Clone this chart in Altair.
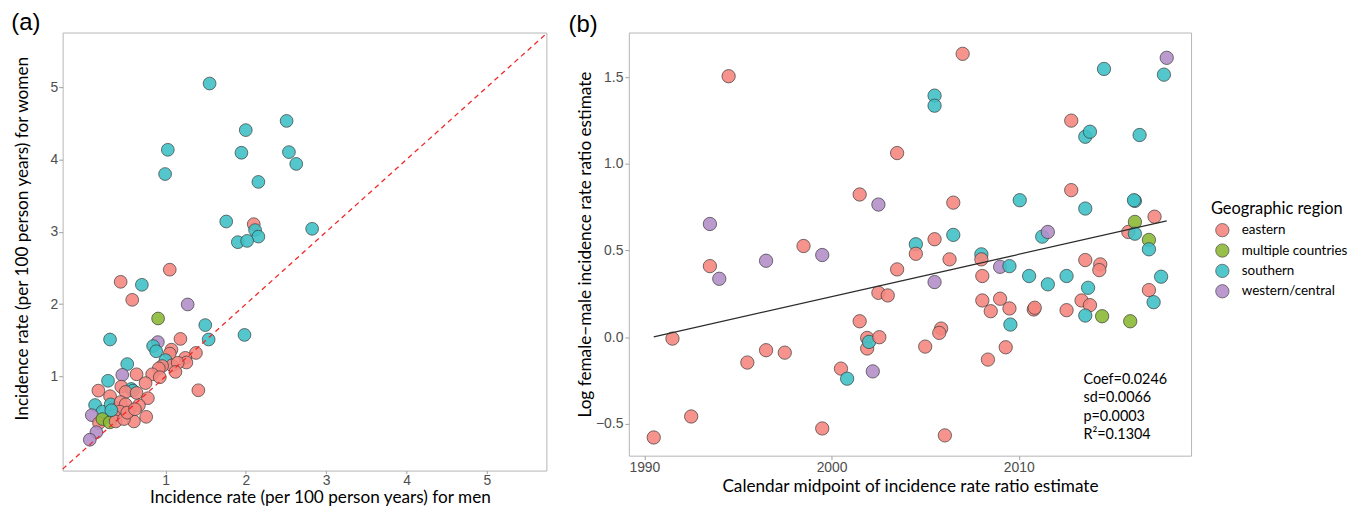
import altair as alt
import pandas as pd

REGIONS = ["eastern", "multiple countries", "southern", "western/central"]
CODE = {"E": "eastern", "M": "multiple countries", "S": "southern", "W": "western/central"}
PALETTE = ["#F4877F", "#8CB936", "#40C1C6", "#B48FC9"]

# ---------------- panel (a): incidence women vs men ----------------
a_men = [1.549, 2.507, 1.999, 1.029, 1.945, 2.536, 2.627, 0.995, 2.156, 1.756,
         2.098, 2.115, 2.156, 1.900, 2.016, 2.825,
         1.053, 0.442, 0.706, 0.586, 1.276, 0.908, 1.495, 0.310, 0.905, 1.537,
         0.846, 0.884, 1.186, 1.983, 1.074, 1.053, 1.379, 1.247, 1.260, 1.000,
         1.082, 1.152, 0.958, 0.917, 1.124, 0.834, 0.929, 0.524, 0.462, 0.640,
         0.752, 1.409, 0.285, 0.165, 0.450, 0.574, 0.595, 0.504, 0.640, 0.310,
         0.781, 0.760, 0.607, 0.669, 0.545, 0.124, 0.215, 0.318, 0.400, 0.083,
         0.442, 0.504, 0.430, 0.359, 0.173, 0.215, 0.306, 0.380, 0.483, 0.140,
         0.058, 0.524, 0.620, 0.326]
a_women = [5.050, 4.533, 4.406, 4.134, 4.093, 4.102, 3.939, 3.799, 3.690, 3.143,
           3.106, 3.024, 2.934, 2.857, 2.875, 3.042,
           2.477, 2.309, 2.268, 2.060, 1.996, 1.802, 1.711, 1.512, 1.476, 1.512,
           1.421, 1.349, 1.520, 1.575, 1.371, 1.317, 1.326, 1.258, 1.194, 1.227,
           1.154, 1.190, 1.145, 1.113, 1.064, 1.031, 0.990, 1.172, 1.023, 1.031,
           0.909, 0.810, 0.941, 0.805, 0.860, 0.828, 0.805, 0.787, 0.773, 0.728,
           0.701, 0.443, 0.379, 0.602, 0.524, 0.606, 0.515, 0.615, 0.561, 0.466,
           0.647, 0.615, 0.515, 0.457, 0.357, 0.412, 0.366, 0.379, 0.412, 0.230,
           0.126, 0.501, 0.548, 0.534]
a_region = ["S", "S", "S", "S", "S", "S", "S", "S", "S", "S",
            "E", "S", "S", "S", "S", "S",
            "E", "E", "S", "E", "W", "M", "S", "S", "W", "S",
            "S", "S", "E", "S", "E", "E", "E", "E", "E", "S",
            "E", "E", "E", "E", "E", "E", "E", "S", "W", "E",
            "E", "E", "S", "E", "E", "S", "S", "E", "E", "E",
            "E", "E", "E", "E", "E", "S", "S", "S", "W", "W",
            "E", "E", "E", "E", "E", "M", "M", "E", "E", "W",
            "W", "E", "E", "S"]
a_diag = [-0.28, 5.74]
a_ticks = [1, 2, 3, 4, 5]

# ---------------- panel (b): log IRR over calendar time ----------------
b_year = [1990.5, 1991.5, 1992.5, 1993.5, 1993.5, 1994.0, 1994.5, 1995.5, 1996.5, 1996.5,
          1997.5, 1998.5, 1999.5, 1999.5, 2000.5, 2000.83, 2001.5, 2001.5, 2001.9, 2001.9,
          2002.0, 2002.55, 2002.2, 2002.5, 2002.5, 2003.0, 2003.5, 2003.5, 2004.5, 2004.5,
          2005.0, 2005.5, 2005.5, 2005.5, 2005.5, 2005.85, 2005.75, 2006.05, 2006.3, 2006.5,
          2006.5, 2007.0, 2008.0, 2008.0, 2008.05, 2008.05, 2008.5, 2008.35, 2009.0, 2009.5,
          2009.0, 2009.5, 2009.55, 2009.3, 2010.05, 2010.55, 2010.8, 2010.85, 2011.25, 2011.55,
          2011.55, 2012.55, 2012.55, 2012.8, 2012.8, 2013.55, 2013.8, 2013.55, 2013.55, 2013.7,
          2013.35, 2013.8, 2013.55, 2014.35, 2014.3, 2014.45, 2014.55, 2015.95, 2015.85, 2016.2,
          2016.15, 2016.2, 2016.2, 2016.45, 2016.95, 2016.95, 2016.95, 2017.25, 2017.2, 2017.6,
          2017.75, 2017.9]
b_logirr = [-0.578, -0.008, -0.457, 0.410, 0.653, 0.337, 1.505, -0.146, 0.441, -0.075,
            -0.089, 0.526, 0.474, -0.526, -0.181, -0.239, 0.823, 0.092, -0.004, -0.065,
            -0.027, 0.000, -0.197, 0.765, 0.256, 0.241, 0.391, 1.062, 0.536, 0.481,
            -0.054, 0.565, 1.393, 1.335, 0.318, 0.050, 0.025, -0.566, 0.449, 0.776,
            0.590, 1.634, 0.478, 0.449, 0.353, 0.212, 0.150, -0.129, 0.406, 0.410,
            0.222, 0.166, 0.073, -0.058, 0.790, 0.353, 0.160, 0.170, 0.580, 0.607,
            0.305, 0.353, 0.156, 1.249, 0.848, 1.156, 1.185, 0.742, 0.445, 0.285,
            0.212, 0.185, 0.125, 0.420, 0.387, 0.121, 1.547, 0.092, 0.607, 0.786,
            0.790, 0.665, 0.597, 1.166, 0.561, 0.507, 0.272, 0.695, 0.202, 0.349,
            1.514, 1.611]
b_region = ["E", "E", "E", "E", "W", "W", "E", "E", "W", "E",
            "E", "E", "W", "E", "E", "S", "E", "E", "E", "E",
            "S", "E", "W", "W", "E", "E", "E", "E", "S", "E",
            "E", "E", "S", "S", "W", "E", "E", "E", "E", "E",
            "S", "E", "S", "E", "E", "E", "E", "E", "W", "S",
            "E", "E", "S", "E", "S", "S", "E", "E", "S", "W",
            "S", "S", "E", "E", "E", "S", "S", "S", "E", "S",
            "E", "E", "S", "E", "E", "M", "S", "M", "E", "S",
            "S", "M", "S", "S", "M", "S", "E", "E", "S", "S",
            "S", "W"]
b_xticks = [1990, 2000, 2010]
b_yticks = [-0.5, 0.0, 0.5, 1.0, 1.5]
stats_text = ["Coef=0.0246", "sd=0.0066", "p=0.0003", "R²=0.1304"]

TITLE_FONT = "Lato"
LABEL_FONT = "Liberation Sans"


def axis(title, values, orient, fmt=None, title_pad=2, tick=4, label_pad=1, **extra):
    kw = dict(
        title=title, values=values, grid=False, domain=False,
        ticks=True, tickSize=tick, tickColor="#a0a0a0", tickWidth=1,
        labelFont=LABEL_FONT, labelFontSize=14, labelColor="#4d4d4d",
        labelPadding=label_pad, titleFont=TITLE_FONT, titleFontSize=17.3,
        titleFontWeight="normal", titleColor="#000000", titlePadding=title_pad,
        orient=orient,
    )
    if fmt:
        kw["format"] = fmt
    kw.update(extra)
    return alt.Axis(**kw)


color_scale = alt.Scale(domain=REGIONS, range=PALETTE)

# ---- panel (a)
dfa = pd.DataFrame({"men": a_men, "women": a_women,
                    "region": [CODE[c] for c in a_region]})
dfd = pd.DataFrame({"v": a_diag})
xa = alt.Scale(domain=[-0.28, 5.74], nice=False, zero=False)
ya = alt.Scale(domain=[-0.30, 5.755], nice=False, zero=False)
ax_xa = axis("Incidence rate (per 100 person years) for men", a_ticks, "bottom",
             title_pad=1, tick=3, label_pad=0, titleX=259)
ax_ya = axis("Incidence rate (per 100 person years) for women", a_ticks, "left",
             title_pad=19, titleY=207)

pts_a = alt.Chart(dfa).mark_circle(
    size=165, stroke="#3a3a3a", strokeWidth=0.7, fillOpacity=0.9, opacity=1
).encode(
    x=alt.X("men:Q", scale=xa, axis=ax_xa),
    y=alt.Y("women:Q", scale=ya, axis=ax_ya),
    color=alt.Color("region:N", scale=color_scale, legend=None),
)
diag_a = alt.Chart(dfd).mark_line(
    color="#F02828", strokeDash=[5, 4], strokeWidth=1.3
).encode(
    x=alt.X("v:Q", scale=xa, axis=ax_xa),
    y=alt.Y("v:Q", scale=ya, axis=ax_ya),
)
panel_a = alt.layer(pts_a, diag_a).properties(
    width=487, height=441,
    title=alt.TitleParams("(a)", anchor="start", frame="bounds", fontSize=24,
                          font=LABEL_FONT, fontWeight="normal", color="#000000",
                          offset=-4, dx=-2),
)

# ---- panel (b)
dfb = pd.DataFrame({"year": b_year, "val": b_logirr,
                    "region": [CODE[c] for c in b_region]})
xb = alt.Scale(domain=[1989.17, 2019.2], nice=False, zero=False)
yb = alt.Scale(domain=[-0.683, 1.757], nice=False, zero=False)
ax_xb = axis("Calendar midpoint of incidence rate ratio estimate", b_xticks, "bottom",
             fmt="d", title_pad=3)
ax_yb = axis("Log female\u2212male incidence rate ratio estimate", b_yticks, "left",
             fmt=".1f", title_pad=1, label_pad=2)

pts_b = alt.Chart(dfb).mark_circle(
    size=180, stroke="#3a3a3a", strokeWidth=0.7, fillOpacity=0.9, opacity=1
).encode(
    x=alt.X("year:Q", scale=xb, axis=ax_xb),
    y=alt.Y("val:Q", scale=yb, axis=ax_yb),
    color=alt.Color(
        "region:N", scale=color_scale,
        legend=alt.Legend(
            title="Geographic region", orient="none", legendX=586, legendY=170,
            titleFont=TITLE_FONT, titleFontSize=16.5, titleFontWeight="normal",
            titleColor="#000000", titlePadding=5,
            labelFont=TITLE_FONT, labelFontSize=13.5, labelColor="#000000",
            symbolType="circle", symbolSize=180, symbolStrokeColor="#3a3a3a",
            symbolStrokeWidth=0.7, symbolOpacity=0.9, symbolOffset=4,
            labelOffset=12, rowPadding=3.5, padding=0,
        ),
    ),
)
reg_b = alt.Chart(dfb).transform_regression("year", "val").mark_line(
    color="#2b2b2b", strokeWidth=1.2
).encode(
    x=alt.X("year:Q", scale=xb, axis=ax_xb),
    y=alt.Y("val:Q", scale=yb, axis=ax_yb),
)
stats_b = alt.Chart(pd.DataFrame({"d": [0]})).mark_text(
    text=stats_text, align="left", baseline="top", lineHeight=18.7,
    fontSize=14.5, font=TITLE_FONT, color="#000000"
).encode(x=alt.datum(2013.45), y=alt.datum(-0.205))

panel_b = alt.layer(pts_b, reg_b, stats_b).properties(
    width=566, height=426,
    title=alt.TitleParams("(b)", anchor="start", frame="bounds", fontSize=24,
                          font=LABEL_FONT, fontWeight="normal", color="#000000",
                          offset=-4, dx=-8),
)

chart = alt.hconcat(panel_a, panel_b, spacing=17).resolve_legend(
    color="independent"
).properties(
    padding={"left": 2, "top": 0, "right": 0, "bottom": 0}
).configure_view(
    stroke="#b5b5b5", strokeWidth=1
)

chart.save("out.html", embed_options={"renderer": "svg", "actions": False})
